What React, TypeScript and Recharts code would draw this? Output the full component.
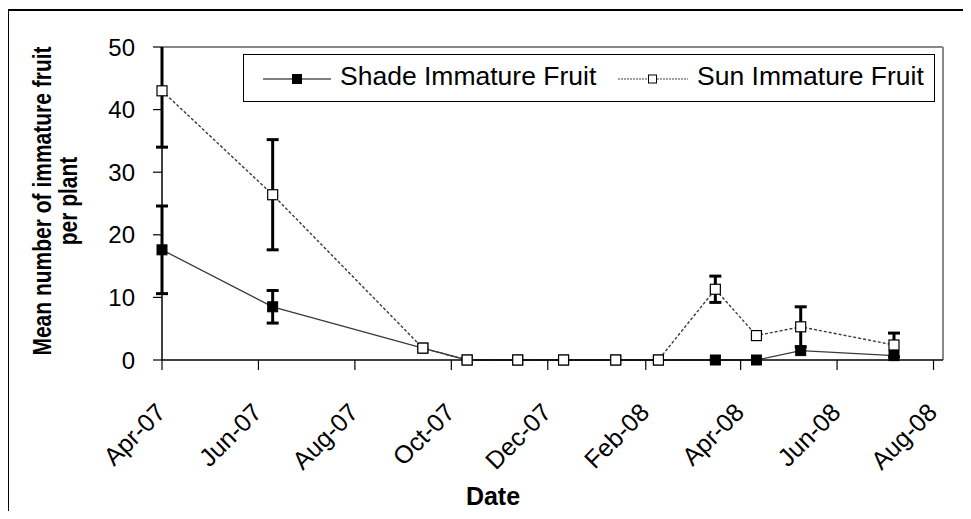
import React from "react";
import {
  LineChart,
  Line,
  XAxis,
  YAxis,
  ErrorBar,
  ReferenceLine,
} from "recharts";

// sampling dates
const sampleDates = [
  "2007-04-01",
  "2007-06-10",
  "2007-09-13",
  "2007-10-11",
  "2007-11-12",
  "2007-12-11",
  "2008-01-13",
  "2008-02-09",
  "2008-03-16",
  "2008-04-11",
  "2008-05-09",
  "2008-07-07",
];
const shadeMean = [17.6, 8.5, 1.9, 0, 0, 0, 0, 0, 0, 0, 1.5, 0.7];
const shadeErr = [7.0, 2.6, null, null, null, null, null, null, null, null, null, null];
const sunMean = [43.0, 26.4, 1.9, 0, 0, 0, 0, 0, 11.3, 3.9, 5.3, 2.4];
const sunErr = [9.0, 8.8, null, null, null, null, null, null, 2.1, null, 3.2, 1.9];

const tickDates = [
  "2007-04-01",
  "2007-06-01",
  "2007-08-01",
  "2007-10-01",
  "2007-12-01",
  "2008-02-01",
  "2008-04-01",
  "2008-06-01",
  "2008-08-01",
];
const yTicks = [0, 10, 20, 30, 40, 50];
const MONTHS = ["Jan", "Feb", "Mar", "Apr", "May", "Jun", "Jul", "Aug", "Sep", "Oct", "Nov", "Dec"];

const FONT = "'Liberation Sans', Arial, Helvetica, sans-serif";
const toTime = (s: string) => new Date(s + "T00:00:00Z").getTime();
const X_MIN = toTime("2007-04-01");
const X_MAX = toTime("2008-08-07");

const data = sampleDates.map((d, i) => ({
  t: toTime(d),
  shade: shadeMean[i],
  shadeErr: shadeErr[i],
  sun: sunMean[i],
  sunErr: sunErr[i],
}));

const fmtMonth = (v: number) => {
  const d = new Date(v);
  return `${MONTHS[d.getUTCMonth()]}-${String(d.getUTCFullYear()).slice(2)}`;
};

const XTick = (props: any) => {
  const { x, y, payload } = props;
  const ax = x + 5;
  const ay = y + 42;
  return (
    <text
      x={ax}
      y={ay}
      transform={`rotate(-45, ${ax}, ${ay})`}
      textAnchor="end"
      fontSize={25}
      fontFamily={FONT}
      fill="#000"
    >
      {fmtMonth(payload.value)}
    </text>
  );
};

const shadeDot = (props: any) => {
  const { cx, cy, index } = props;
  if (cx == null || cy == null) return <g key={`sd-${index}`} />;
  return (
    <rect key={`sd-${index}`} x={cx - 5} y={cy - 5} width={10} height={10} fill="#000" stroke="#000" strokeWidth={1} />
  );
};

const sunDot = (props: any) => {
  const { cx, cy, index } = props;
  if (cx == null || cy == null) return <g key={`su-${index}`} />;
  return (
    <rect key={`su-${index}`} x={cx - 5} y={cy - 5} width={10} height={10} fill="#fff" stroke="#000" strokeWidth={1.2} />
  );
};

const yLabel = () => (
  <g fontFamily={FONT} fontWeight="bold" fontSize={21} fill="#000">
    <text x={0} y={0} transform="translate(51, 201) rotate(-90) scale(1, 1.2)" textAnchor="middle">
      Mean number of immature fruit
    </text>
    <text x={0} y={0} transform="translate(77, 201) rotate(-90) scale(1, 1.2)" textAnchor="middle">
      per plant
    </text>
  </g>
);

const xLabel = () => (
  <text x={493} y={505} textAnchor="middle" fontFamily={FONT} fontWeight="bold" fontSize={25} fill="#000">
    Date
  </text>
);

const Legend = () => (
  <div
    style={{
      position: "absolute",
      left: 243,
      top: 54,
      width: 690,
      height: 46,
      border: "1px solid #000",
      background: "#fff",
      fontFamily: FONT,
      fontSize: 26.5,
      color: "#000",
    }}
  >
    <svg width={80} height={46} style={{ position: "absolute", left: 19, top: 0 }}>
      <line x1={0} y1={24} x2={68} y2={24} stroke="#000" strokeWidth={1.2} />
      <rect x={29} y={19} width={10} height={10} fill="#000" />
    </svg>
    <span style={{ position: "absolute", left: 96, top: 6, whiteSpace: "nowrap" }}>Shade Immature Fruit</span>
    <svg width={80} height={46} style={{ position: "absolute", left: 374, top: 0 }}>
      <line x1={0} y1={24} x2={70} y2={24} stroke="#444" strokeWidth={1.2} strokeDasharray="2 1" />
      <rect x={30.5} y={20} width={8} height={8} fill="#fff" stroke="#000" strokeWidth={1} />
    </svg>
    <span style={{ position: "absolute", left: 453, top: 6, whiteSpace: "nowrap" }}>Sun Immature Fruit</span>
  </div>
);

export default function App() {
  return (
    <div
      style={{
        position: "relative",
        width: 971,
        height: 519,
        margin: -8,
        overflow: "hidden",
        background: "#fff",
      }}
    >
      {/* keep error bars inside the plot frame, as in the original */}
      <style>{`.recharts-errorBar { clip-path: url(#plotFrameClip); }`}</style>
      <svg width={0} height={0} style={{ position: "absolute" }}>
        <defs>
          <clipPath id="plotFrameClip" clipPathUnits="userSpaceOnUse">
            <rect x={140} y={47} width={820} height={340} />
          </clipPath>
        </defs>
      </svg>
      <div
        style={{
          position: "absolute",
          left: 7,
          top: 9,
          width: 1000,
          height: 600,
          borderLeft: "2px solid #000",
          borderTop: "2px solid #000",
        }}
      />
      <div style={{ position: "absolute", left: 0, top: 0 }}>
        <LineChart
          width={971}
          height={519}
          data={data}
          margin={{ top: 47, right: 28, bottom: 59, left: 0 }}
        >
          <XAxis
            dataKey="t"
            type="number"
            scale="linear"
            domain={[X_MIN, X_MAX]}
            ticks={tickDates.map(toTime)}
            tick={<XTick />}
            tickSize={10}
            tickMargin={2}
            height={100}
            axisLine={{ stroke: "#000", strokeWidth: 1.5 }}
            tickLine={{ stroke: "#000", strokeWidth: 1.2 }}
            interval={0}
            label={{ content: xLabel }}
          />
          <YAxis
            yAxisId="left"
            type="number"
            domain={[0, 50]}
            ticks={yTicks}
            allowDataOverflow
            width={162}
            tickSize={9}
            tickMargin={18}
            tick={{ fontSize: 24, fill: "#000", fontFamily: FONT }}
            axisLine={{ stroke: "#000", strokeWidth: 1.5 }}
            tickLine={{ stroke: "#000", strokeWidth: 1.2 }}
            interval={0}
            label={{ content: yLabel }}
          />
          <YAxis yAxisId="pts" type="number" domain={[0, 50]} hide />
          <ReferenceLine yAxisId="left" y={50} stroke="#888" strokeWidth={2} />
          <ReferenceLine yAxisId="left" x={X_MAX} stroke="#888" strokeWidth={2} />

          {/* error bars */}
          <Line
            yAxisId="left"
            dataKey="shade"
            stroke="none"
            dot={false}
            activeDot={false}
            isAnimationActive={false}
          >
            <ErrorBar dataKey="shadeErr" direction="y" width={6} strokeWidth={3} stroke="#000" />
          </Line>
          <Line
            yAxisId="left"
            dataKey="sun"
            stroke="none"
            dot={false}
            activeDot={false}
            isAnimationActive={false}
          >
            <ErrorBar dataKey="sunErr" direction="y" width={6} strokeWidth={3} stroke="#000" />
          </Line>

          {/* series lines and markers */}
          <Line
            yAxisId="pts"
            dataKey="shade"
            stroke="#3a3a3a"
            strokeWidth={1.3}
            dot={shadeDot}
            activeDot={false}
            isAnimationActive={false}
          />
          <Line
            yAxisId="pts"
            dataKey="sun"
            stroke="#3a3a3a"
            strokeWidth={1.4}
            strokeDasharray="3 2"
            dot={sunDot}
            activeDot={false}
            isAnimationActive={false}
          />
        </LineChart>
      </div>
      <Legend />
    </div>
  );
}
